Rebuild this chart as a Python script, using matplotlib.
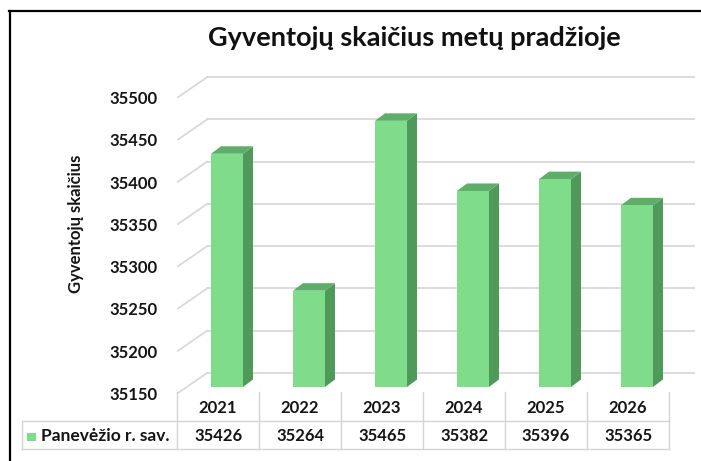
import matplotlib
matplotlib.use("Agg")
import matplotlib.pyplot as plt
from matplotlib.patches import Polygon, Rectangle
from matplotlib.lines import Line2D
import numpy as np

# ---- data ----
years = ["2021", "2022", "2023", "2024", "2025", "2026"]
values = [35426, 35264, 35465, 35382, 35396, 35365]
series_name = "Panevėžio r. sav."
yticks = [35150, 35200, 35250, 35300, 35350, 35400, 35450, 35500]
title = "Gyventojų skaičius metų pradžioje"
ylabel = "Gyventojų skaičius"

FONT = "Lato"
plt.rcParams['font.family'] = [FONT, 'DejaVu Sans']

W, H = 701, 461
fig = plt.figure(figsize=(W / 100, H / 100), dpi=100)
fig.patch.set_facecolor("white")

TXT = "#141414"

# pixel -> figure fraction helpers (layout only)
def fx(px):
    return px / W

def fy(py):
    return 1 - py / H

# horizontal mapping: category k centre at px 218 + 82*k
COL0, COLW = 218.0, 82.0
def kx(px):
    return (px - COL0) / COLW

# vertical mapping for main axes
BASE = yticks[0]
PXU = 0.845          # pixels per unit
BASE_PY = 387.0      # pixel row of the floor (bar base)

ax_left_px, ax_right_px = 170, 700
ax_top_px, ax_bot_px = 55, 400
ax = fig.add_axes([fx(ax_left_px), fy(ax_bot_px),
                   fx(ax_right_px) - fx(ax_left_px), fy(ax_top_px) - fy(ax_bot_px)])
ax.set_xlim(kx(ax_left_px), kx(ax_right_px))
ax.set_ylim(BASE - (ax_bot_px - BASE_PY) / PXU, BASE + (BASE_PY - ax_top_px) / PXU)
ax.axis("off")

grid_c = "#d9d9d9"
back_dy = 14 / PXU
front_dy = -6 / PXU
label_dy = -8 / PXU
back_x0 = kx(207)
back_x1 = kx(694)
front_x0 = kx(178)

for v in yticks:
    ax.plot([back_x0, back_x1], [v + back_dy, v + back_dy], color=grid_c, lw=1.3,
            clip_on=False, zorder=1)
    ax.plot([front_x0, back_x0], [v + front_dy, v + back_dy], color=grid_c, lw=1.3,
            clip_on=False, zorder=1)
    ax.text(kx(158), v + label_dy, f"{v}", ha="right", va="center",
            fontsize=12, fontweight="bold", color=TXT)

# bars (front face + side + top)
front_c = "#7fdc8b"
side_c = "#4f9a5b"
top_c = "#5eae6a"
x = np.arange(len(years)) + 9 / COLW
bw = 32 / COLW
ddx = 10 / COLW
ddy = 7.5 / PXU
heights = [v - BASE for v in values]
ax.bar(x, heights, width=bw, bottom=BASE, color=front_c, edgecolor="none", zorder=3)
for xi, v in zip(x, values):
    xr = xi + bw / 2
    xl = xi - bw / 2
    side = Polygon([(xr, BASE), (xr + ddx, BASE + ddy), (xr + ddx, v + ddy), (xr, v)],
                   closed=True, facecolor=side_c, edgecolor="none", zorder=2)
    top = Polygon([(xl, v), (xl + ddx, v + ddy), (xr + ddx, v + ddy), (xr, v)],
                  closed=True, facecolor=top_c, edgecolor="none", zorder=2)
    ax.add_patch(side)
    ax.add_patch(top)

# ---- data table ----
tab_top_px, tab_bot_px = 388, 461
tax = fig.add_axes([fx(ax_left_px), fy(tab_bot_px),
                    fx(ax_right_px) - fx(ax_left_px), fy(tab_top_px) - fy(tab_bot_px)])
tax.set_xlim(kx(ax_left_px), kx(ax_right_px))
tax.set_ylim(tab_bot_px, tab_top_px)
tax.axis("off")

tcol = "#d4d4d4"
n = len(years)
row0, row1, row2 = 392, 421, 449
legend_left = kx(22)
for i in range(n + 1):
    tax.plot([i - 0.5, i - 0.5], [row0, row2], color=tcol, lw=1.0, clip_on=False)
tax.plot([legend_left, legend_left], [row1, row2], color=tcol, lw=1.0, clip_on=False)
tax.plot([legend_left, n - 0.5], [row1, row1], color=tcol, lw=1.0, clip_on=False)
tax.plot([legend_left, n - 0.5], [row2, row2], color=tcol, lw=1.0, clip_on=False)

for i, (yr, v) in enumerate(zip(years, values)):
    tax.text(i, (row0 + row1) / 2 + 1, yr, ha="center", va="center",
             fontsize=12, fontweight="bold", color=TXT)
    tax.text(i, (row1 + row2) / 2 + 1, f"{v}", ha="center", va="center",
             fontsize=12, fontweight="bold", color=TXT)

tax.add_patch(Rectangle((kx(27), 441), kx(36) - kx(27), -8, facecolor=front_c,
                        edgecolor="none", clip_on=False))
tax.text(kx(41), (row1 + row2) / 2 + 1, series_name, ha="left", va="center",
         fontsize=12.5, fontweight="bold", color=TXT)

# ---- title and axis label ----
fig.text(fx(414), fy(38), title, ha="center", va="center", fontsize=19.5,
         fontweight="bold", color="#111111")
fig.text(fx(76), fy(224), ylabel, ha="center", va="center", rotation=90,
         fontsize=12, fontweight="bold", color=TXT)

# ---- black frame (top and left) ----
fig.add_artist(Line2D([fx(9), fx(701)], [fy(11), fy(11)], color="black", lw=1.6))
fig.add_artist(Line2D([fx(10), fx(10)], [fy(11), fy(461)], color="black", lw=1.6))

fig.savefig("out.png", dpi=100, facecolor="white")
